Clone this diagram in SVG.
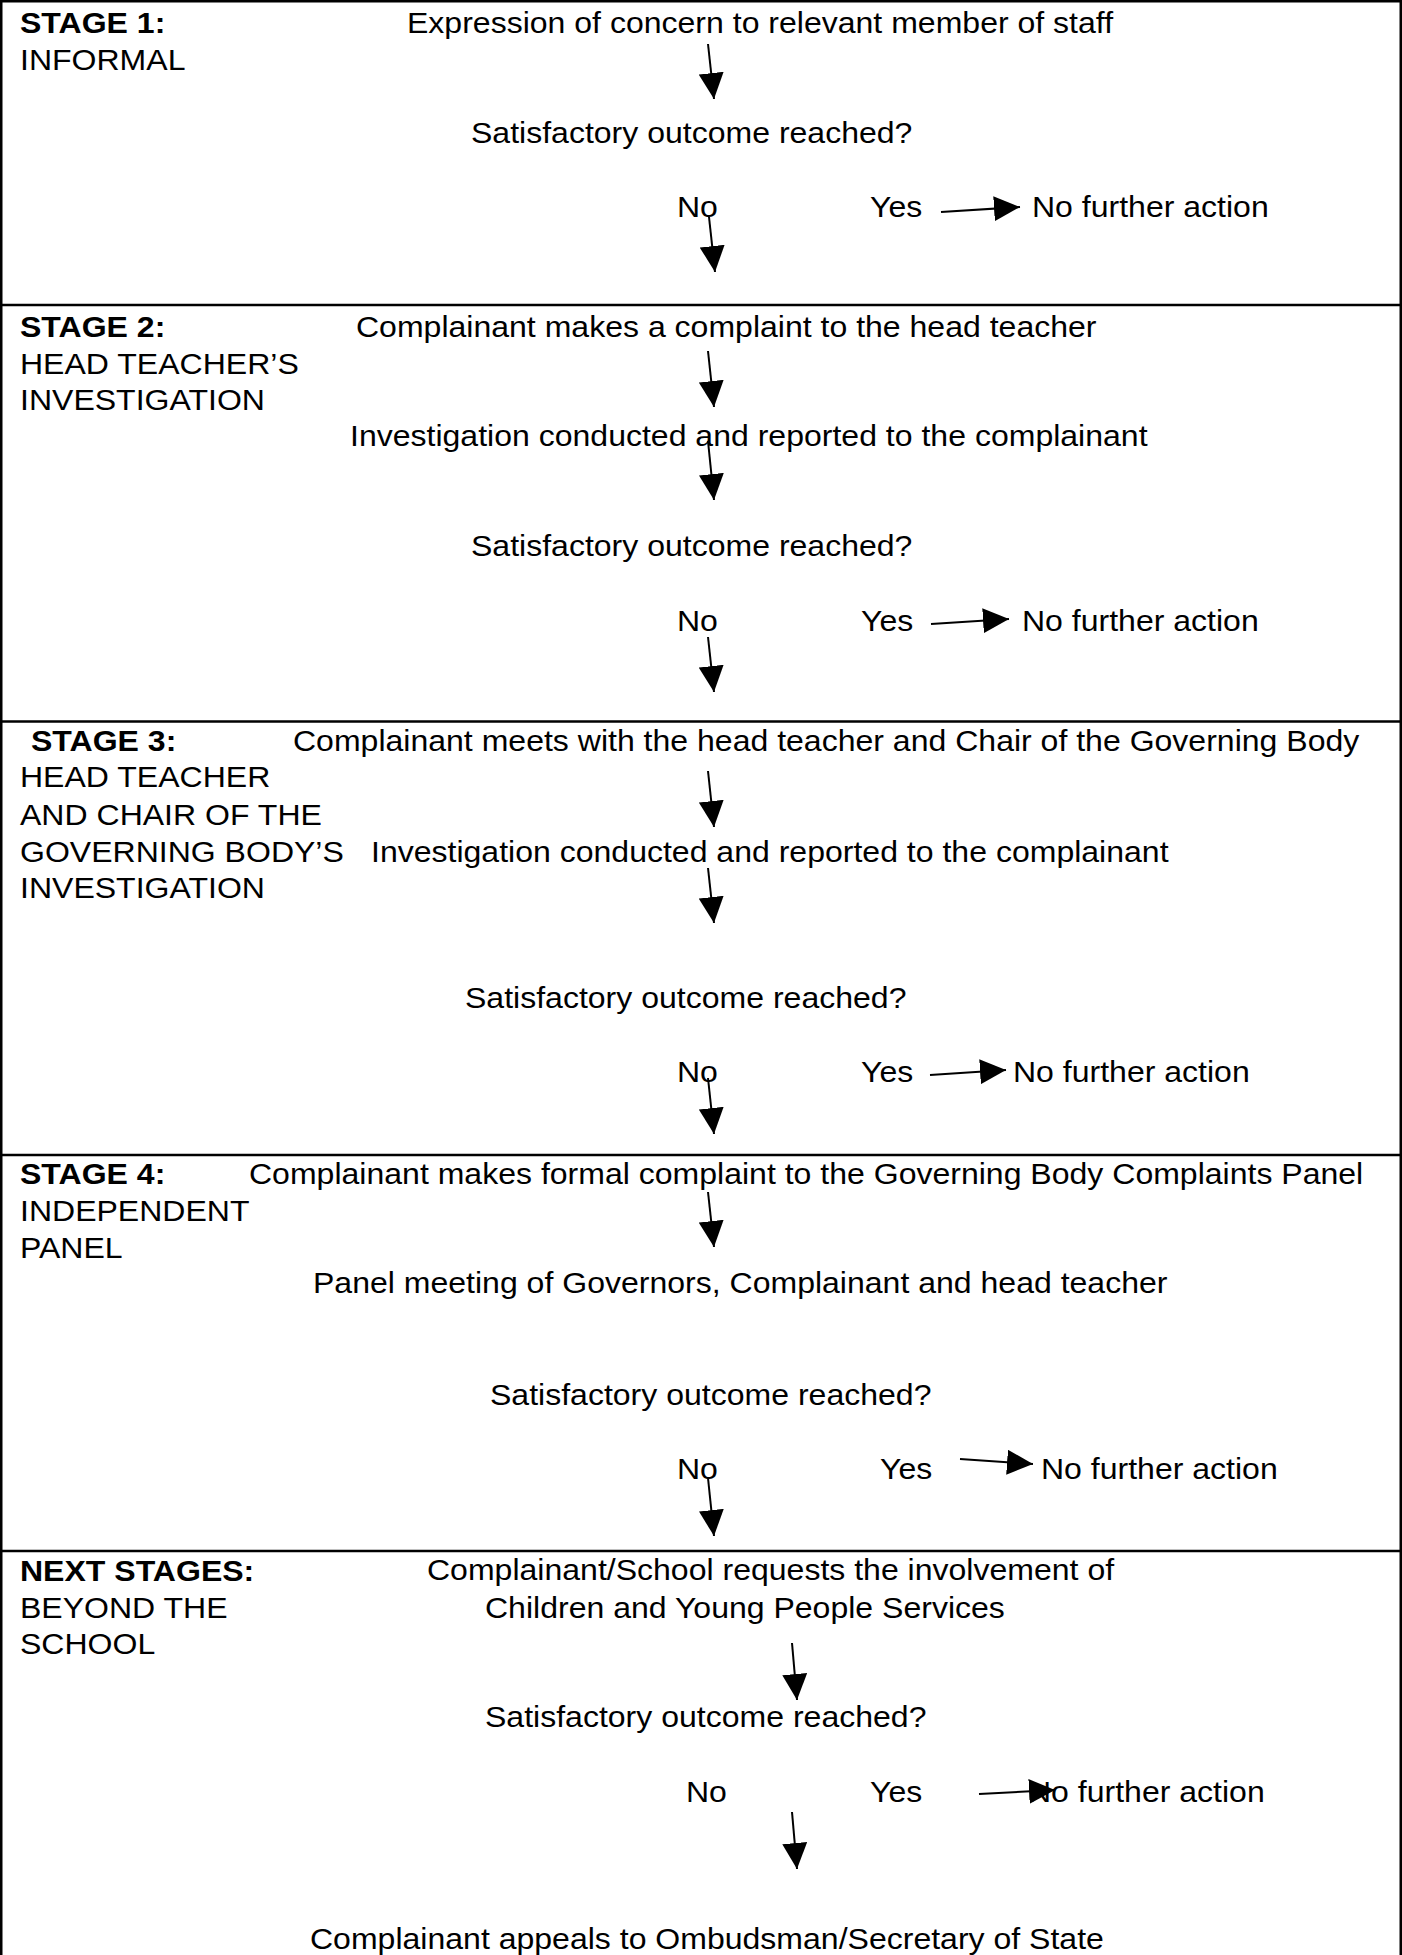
<svg xmlns="http://www.w3.org/2000/svg" width="1402" height="1955" viewBox="0 0 1402 1955">
  <style>
    text { font-family: "Liberation Sans", Arial, sans-serif; font-size: 29.5px; fill: #000; transform-box: fill-box; transform-origin: 0 0; transform: scaleX(1.086); }
    .b { font-weight: bold; }
    .frame { fill: none; stroke: #000; stroke-width: 2.5; }
    .sep { stroke: #000; stroke-width: 2.5; }
    .conn line { stroke: #000; stroke-width: 2; marker-end: url(#ah); }
  </style>
  <defs>
    <marker id="ah" markerUnits="userSpaceOnUse" viewBox="0 0 26 25" refX="26" refY="12.5" markerWidth="26" markerHeight="25" orient="auto">
      <path d="M0,0 L26,12.5 L0,25 Z" fill="#000"/>
    </marker>
  </defs>
  <rect width="1402" height="1955" fill="#fff"/>

  <g id="frame">
    <rect class="frame" x="1.25" y="1.25" width="1399.5" height="1980"/>
    <line class="sep" x1="0" y1="305" x2="1402" y2="305"/>
    <line class="sep" x1="0" y1="721.5" x2="1402" y2="721.5"/>
    <line class="sep" x1="0" y1="1155" x2="1402" y2="1155"/>
    <line class="sep" x1="0" y1="1551" x2="1402" y2="1551"/>
  </g>

  <g id="stage1">
    <text class="b" x="20" y="33">STAGE 1:</text>
    <text x="20" y="70">INFORMAL</text>
  </g>
  <g id="s1-concern"><text x="407" y="33">Expression of concern to relevant member of staff</text></g>
  <g id="s1-outcome"><text x="471" y="143">Satisfactory outcome reached?</text></g>
  <g id="s1-no"><text x="677" y="217">No</text></g>
  <g id="s1-yes"><text x="870" y="217">Yes</text></g>
  <g id="s1-nfa"><text x="1032" y="217">No further action</text></g>

  <g id="stage2">
    <text class="b" x="20" y="337">STAGE 2:</text>
    <text x="20" y="374">HEAD TEACHER’S</text>
    <text x="20" y="410">INVESTIGATION</text>
  </g>
  <g id="s2-complaint"><text x="356" y="337">Complainant makes a complaint to the head teacher</text></g>
  <g id="s2-investigation"><text x="350" y="446">Investigation conducted and reported to the complainant</text></g>
  <g id="s2-outcome"><text x="471" y="556">Satisfactory outcome reached?</text></g>
  <g id="s2-no"><text x="677" y="631">No</text></g>
  <g id="s2-yes"><text x="861" y="631">Yes</text></g>
  <g id="s2-nfa"><text x="1022" y="631">No further action</text></g>

  <g id="stage3">
    <text class="b" x="31" y="751">STAGE 3:</text>
    <text x="20" y="787">HEAD TEACHER</text>
    <text x="20" y="825">AND CHAIR OF THE</text>
    <text x="20" y="862">GOVERNING BODY’S</text>
    <text x="20" y="898">INVESTIGATION</text>
  </g>
  <g id="s3-meeting"><text x="293" y="751">Complainant meets with the head teacher and Chair of the Governing Body</text></g>
  <g id="s3-investigation"><text x="371" y="862">Investigation conducted and reported to the complainant</text></g>
  <g id="s3-outcome"><text x="465" y="1008">Satisfactory outcome reached?</text></g>
  <g id="s3-no"><text x="677" y="1082">No</text></g>
  <g id="s3-yes"><text x="861" y="1082">Yes</text></g>
  <g id="s3-nfa"><text x="1013" y="1082">No further action</text></g>

  <g id="stage4">
    <text class="b" x="20" y="1184">STAGE 4:</text>
    <text x="20" y="1221">INDEPENDENT</text>
    <text x="20" y="1258">PANEL</text>
  </g>
  <g id="s4-formal"><text x="249" y="1184">Complainant makes formal complaint to the Governing Body Complaints Panel</text></g>
  <g id="s4-panel"><text x="313" y="1293">Panel meeting of Governors, Complainant and head teacher</text></g>
  <g id="s4-outcome"><text x="490" y="1405">Satisfactory outcome reached?</text></g>
  <g id="s4-no"><text x="677" y="1479">No</text></g>
  <g id="s4-yes"><text x="880" y="1479">Yes</text></g>
  <g id="s4-nfa"><text x="1041" y="1479">No further action</text></g>

  <g id="stage5">
    <text class="b" x="20" y="1581">NEXT STAGES:</text>
    <text x="20" y="1618">BEYOND THE</text>
    <text x="20" y="1654">SCHOOL</text>
  </g>
  <g id="s5-request">
    <text x="427" y="1580">Complainant/School requests the involvement of</text>
    <text x="485" y="1618">Children and Young People Services</text>
  </g>
  <g id="s5-outcome"><text x="485" y="1727">Satisfactory outcome reached?</text></g>
  <g id="s5-no"><text x="686" y="1802">No</text></g>
  <g id="s5-yes"><text x="870" y="1802">Yes</text></g>
  <g id="s5-nfa"><text x="1028" y="1802">No further action</text></g>
  <g id="s5-appeal"><text x="310" y="1949">Complainant appeals to Ombudsman/Secretary of State</text></g>

  <g id="connectors" class="conn">
    <line x1="708" y1="44" x2="714" y2="99"/>
    <line x1="709" y1="217" x2="715" y2="272"/>
    <line x1="941" y1="212" x2="1020" y2="207"/>

    <line x1="708" y1="351" x2="714" y2="407"/>
    <line x1="708" y1="441" x2="714" y2="500"/>
    <line x1="708" y1="637" x2="714" y2="692"/>
    <line x1="931" y1="624" x2="1009" y2="619"/>

    <line x1="708" y1="771" x2="714" y2="827"/>
    <line x1="708" y1="868" x2="714" y2="923"/>
    <line x1="708" y1="1078" x2="714" y2="1134"/>
    <line x1="930" y1="1075" x2="1006" y2="1070"/>

    <line x1="708" y1="1192" x2="714" y2="1247"/>
    <line x1="708" y1="1478" x2="714" y2="1536"/>
    <line x1="960" y1="1459" x2="1033" y2="1464"/>

    <line x1="792" y1="1643" x2="797" y2="1700"/>
    <line x1="792" y1="1812" x2="797" y2="1869"/>
    <line x1="979" y1="1794" x2="1055" y2="1790"/>
  </g>
</svg>
